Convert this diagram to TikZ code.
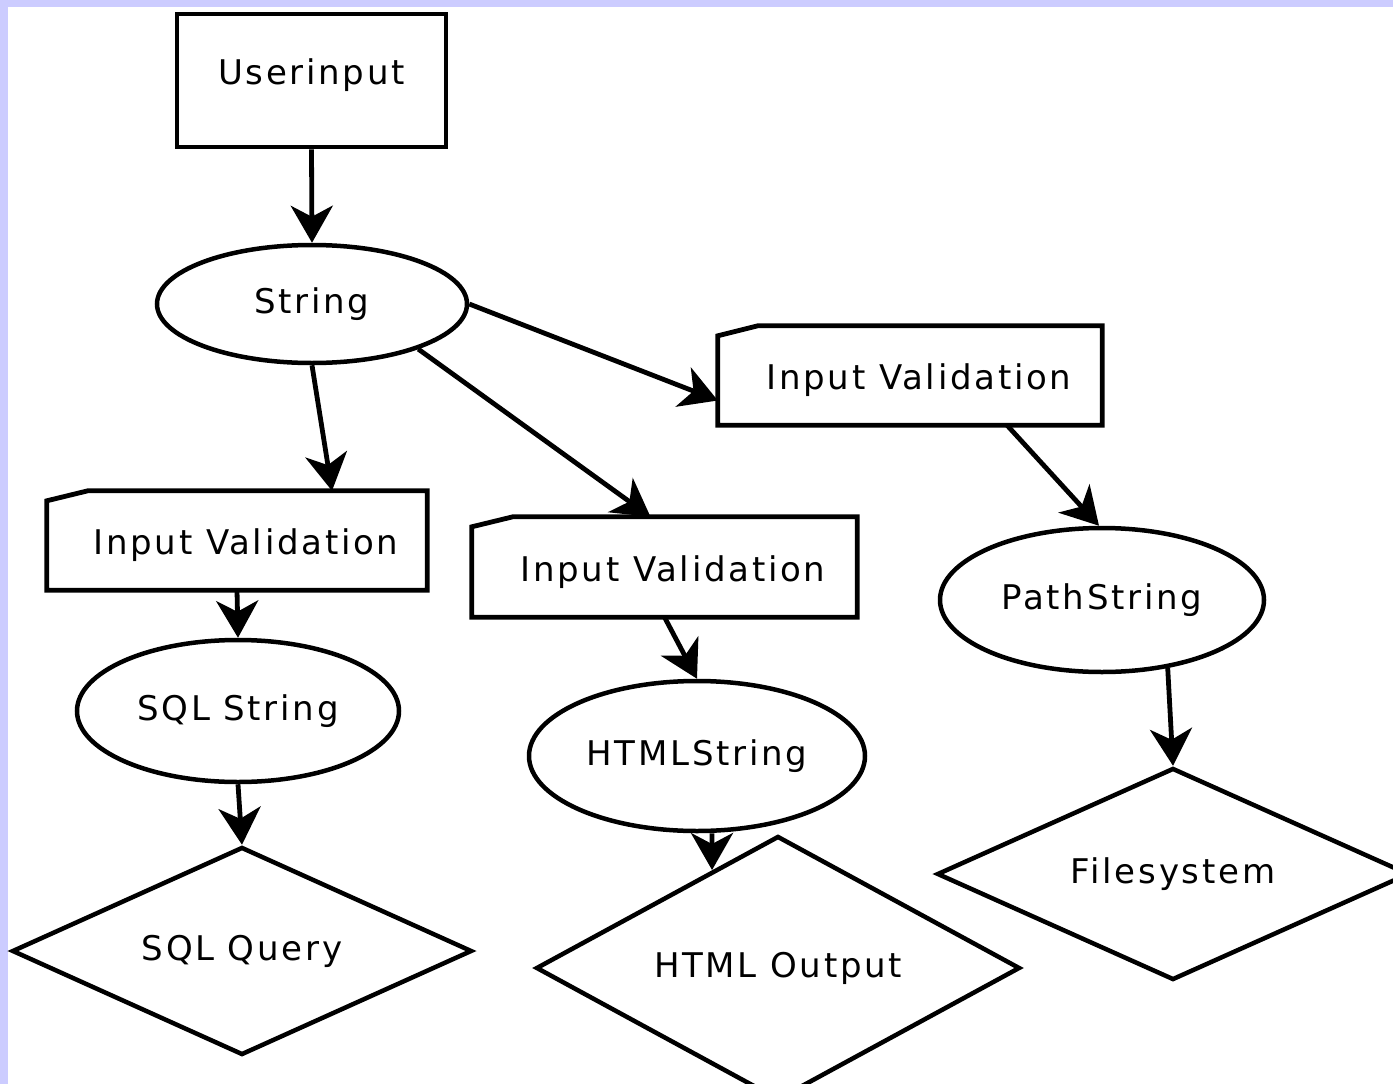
\documentclass[tikz,border=0pt]{standalone}
\usepackage{fontspec}
\newfontfamily\dvfont[LetterSpace=8]{DejaVu Sans}
\usetikzlibrary{shapes.geometric,arrows.meta,calc}
\definecolor{bgblue}{HTML}{CCCCFF}
\begin{document}
\begin{tikzpicture}[x=1pt,y=-1pt,
  every node/.style={font=\dvfont\fontsize{34}{40}\selectfont, inner sep=0pt},
  boxnode/.style={draw, line width=4.8pt, rectangle},
  ivnode/.style={rectangle, text height=36pt, text depth=8pt},
  ellnode/.style={draw, line width=4.5pt, ellipse},
  dianode/.style={draw, line width=4.5pt, diamond},
  arr/.style={line width=4.8pt, -{Stealth[length=37pt,width=42pt,inset=11pt]}},
  cutbox/.style={draw, line width=4.8pt, line join=miter}
]
\useasboundingbox (0,0) rectangle (1393,1084);
\clip (0,0) rectangle (1393,1084);
\fill[bgblue] (0,0) rectangle (1393,1084);
\fill[white] (8,7) rectangle (1393,1084);

% nodes
\node[boxnode, minimum width=269pt, minimum height=133pt, text height=16pt, text depth=8pt] (user) at (311.5,80.5) {Userinput};
\node[ellnode, minimum width=310pt, minimum height=118pt] (str) at (312,304) {String};

\node[ivnode, minimum width=384pt, minimum height=99pt] (iv1) at (910,375.5) {\hspace*{18pt}Input Validation};
\node[ivnode, minimum width=380pt, minimum height=99pt] (iv2) at (237,540.5) {\hspace*{18pt}Input Validation};
\node[ivnode, minimum width=385pt, minimum height=100pt] (iv3) at (664.5,567) {\hspace*{17pt}Input Validation};

\foreach \n/\c in {iv1/40, iv2/41, iv3/41}{
  \draw[cutbox] (\n.south west) -- (\n.south east) -- (\n.north east)
    -- ([xshift=\c pt]\n.north west) -- ([yshift=-10pt]\n.north west) -- cycle;
}

\node[ellnode, minimum width=322pt, minimum height=142pt] (sql) at (238,711) {SQL String};
\node[ellnode, minimum width=336pt, minimum height=150pt] (html) at (697,756) {HTMLString};
\node[ellnode, minimum width=324pt, minimum height=144pt] (ps) at (1102,600) {PathString};

\node[dianode, aspect=2.2, minimum width=460pt, minimum height=208pt] (sqlq) at (242,951) {SQL Query};
\node[dianode, aspect=1.83, minimum width=484pt, minimum height=264pt] (hout) at (778,968) {HTML Output};
\node[dianode, aspect=2.23, minimum width=472pt, minimum height=212pt] (fs) at (1173,874) {Filesystem};

% connectors
\draw[arr] (user.south) -- (str.north);
\draw[arr] (str.south) -- ([xshift=95pt]iv2.north);
\draw[arr] (str.-23) -- ([xshift=-14pt]iv3.north);
\draw[arr] (str.east) -- ([yshift=-25pt]iv1.west);
\draw[arr] ([xshift=97pt]iv1.south) -- ([xshift=-3pt]ps.north);
\draw[arr] (iv2.south) -- (sql.north);
\draw[arr] (iv3.south) -- (html.north);
\draw[arr] (sql.south) -- (sqlq.north);
\draw[arr] ([xshift=15pt]html.south) -- ($(hout.north)!0.27!(hout.west)$);
\draw[arr] (ps.-46) -- (fs.north);
\end{tikzpicture}
\end{document}
